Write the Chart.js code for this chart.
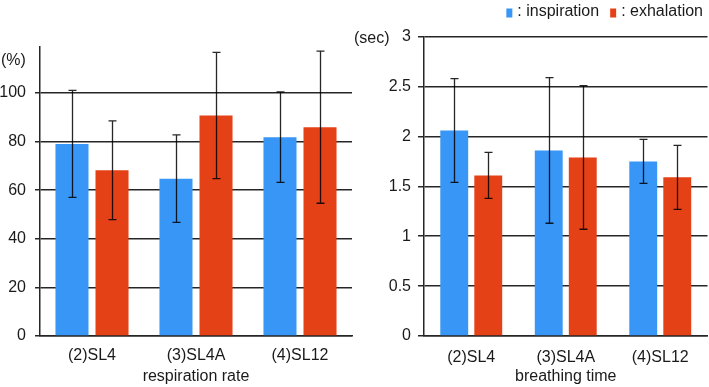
<!DOCTYPE html>
<html>
<head>
<meta charset="utf-8">
<script src="https://cdn.jsdelivr.net/npm/chart.js@4"></script>
<style>
  html, body { margin: 0; padding: 0; background: #fff; }
  #wrap { position: relative; width: 709px; height: 387px; }
  .box { position: absolute; top: 0; height: 387px; }
</style>
</head>
<body>
<div id="wrap">
  <div class="box" style="left:0;width:353px"><canvas id="chartRate"></canvas></div>
  <div class="box" style="left:353px;width:356px"><canvas id="chartTime"></canvas></div>
</div>
<script>
// categories
const groups = ['(2)SL4', '(3)SL4A', '(4)SL12'];

// respiration rate (%), mean and SD
const rateInsp = [79.0, 64.7, 81.8];
const rateInspSd = [22.0, 18.0, 18.6];
const rateExh = [68.2, 90.7, 85.9];
const rateExhSd = [20.3, 26.0, 31.3];

// breathing time (sec), mean and SD
const timeInsp = [2.06, 1.86, 1.75];
const timeInspSd = [0.52, 0.73, 0.22];
const timeExh = [1.61, 1.79, 1.59];
const timeExhSd = [0.23, 0.72, 0.32];

const blue = '#3796f6';
const red = '#e54117';
const lineCol = '#262626';
const textCol = '#1a1a1a';
const FONT = "'Liberation Sans', Arial, sans-serif";

// error bars + unit label + legend
const extras = {
  id: 'extras',
  afterDatasetsDraw(chart, args, opts) {
    const ctx = chart.ctx;
    const y = chart.scales.y;
    ctx.save();
    ctx.strokeStyle = 'rgba(0,0,0,0.85)';
    ctx.lineWidth = 1.3;
    chart.data.datasets.forEach((ds, di) => {
      const meta = chart.getDatasetMeta(di);
      meta.data.forEach((bar, i) => {
        const sd = ds.sd[i];
        const top = y.getPixelForValue(ds.data[i] + sd);
        const bot = y.getPixelForValue(ds.data[i] - sd);
        const x = Math.round(bar.x) + 0.5;
        ctx.beginPath();
        ctx.moveTo(x, top); ctx.lineTo(x, bot);
        ctx.moveTo(x - 4, top); ctx.lineTo(x + 4, top);
        ctx.moveTo(x - 4, bot); ctx.lineTo(x + 4, bot);
        ctx.stroke();
      });
    });
    ctx.restore();
  },
  afterDraw(chart, args, opts) {
    const ctx = chart.ctx;
    ctx.save();
    ctx.fillStyle = textCol;
    ctx.font = '16px ' + FONT;
    ctx.textBaseline = 'middle';
    ctx.textAlign = 'left';
    ctx.fillText(opts.unit, opts.unitX, opts.unitY);
    if (opts.legend) {
      const items = chart.data.datasets.map(ds => ({ c: ds.backgroundColor, t: ': ' + ds.label }));
      let w = 0;
      items.forEach((it, k) => { w += 6 + 5 + ctx.measureText(it.t).width + (k ? 11 : 0); });
      let x = opts.legendRight - w;
      items.forEach((it, k) => {
        if (k) x += 11;
        ctx.fillStyle = it.c;
        ctx.fillRect(x, 8.5, 6, 9);
        x += 11;
        ctx.fillStyle = textCol;
        ctx.fillText(it.t, x, 12);
        x += ctx.measureText(it.t).width;
      });
    }
    ctx.restore();
  }
};

function makeChart(id, cfg) {
  return new Chart(document.getElementById(id), {
    type: 'bar',
    data: {
      labels: groups,
      datasets: [
        { label: 'inspiration', data: cfg.insp, sd: cfg.inspSd, backgroundColor: blue },
        { label: 'exhalation', data: cfg.exh, sd: cfg.exhSd, backgroundColor: red }
      ]
    },
    plugins: [extras],
    options: {
      responsive: true,
      maintainAspectRatio: false,
      animation: false,
      categoryPercentage: cfg.catPct,
      barPercentage: cfg.barPct,
      layout: { padding: { left: 0, top: cfg.top, right: cfg.right, bottom: 0 } },
      plugins: {
        legend: { display: false },
        tooltip: { enabled: false },
        extras: cfg.extras
      },
      scales: {
        x: {
          grid: { display: false, drawTicks: false },
          border: { display: true, color: lineCol, width: 1.5 },
          ticks: { color: textCol, padding: cfg.tickPad, font: { family: FONT, size: 16 } },
          title: { display: true, text: cfg.title, color: textCol, padding: { top: 0, bottom: 1 }, font: { family: FONT, size: 16 } },
          afterFit(s) { s.height = 51; }
        },
        y: {
          min: 0,
          max: cfg.max,
          grid: { color: lineCol, lineWidth: 1.5, tickLength: cfg.tickLen },
          border: { display: true, color: lineCol, width: 1.5 },
          ticks: {
            stepSize: cfg.step, color: textCol, padding: cfg.yPad, font: { family: FONT, size: 16 },
            callback: v => String(Math.round(v * 100) / 100)
          },
          afterBuildTicks(s) {
            s.ticks = s.ticks.filter(t => Math.abs(t.value / cfg.step - Math.round(t.value / cfg.step)) < 1e-6);
          },
          afterFit(s) { s.width = cfg.yWidth; }
        }
      }
    }
  });
}

makeChart('chartRate', {
  insp: rateInsp, inspSd: rateInspSd, exh: rateExh, exhSd: rateExhSd,
  max: 119, step: 20, top: 46.7, right: 1, yWidth: 40, yPad: 9, tickLen: 5,
  catPct: 0.77, barPct: 0.825, tickPad: 10, title: 'respiration rate',
  extras: { unit: '(%)', unitX: 1, unitY: 61 }
});

makeChart('chartTime', {
  insp: timeInsp, inspSd: timeInspSd, exh: timeExh, exhSd: timeExhSd,
  max: 3, step: 0.5, top: 36.7, right: 1.5, yWidth: 71, yPad: 7, tickLen: 6,
  catPct: 0.72, barPct: 0.82, tickPad: 12, title: 'breathing time',
  extras: { unit: '(sec)', unitX: 1, unitY: 39, legend: true, legendRight: 350 }
});
</script>
</body>
</html>
